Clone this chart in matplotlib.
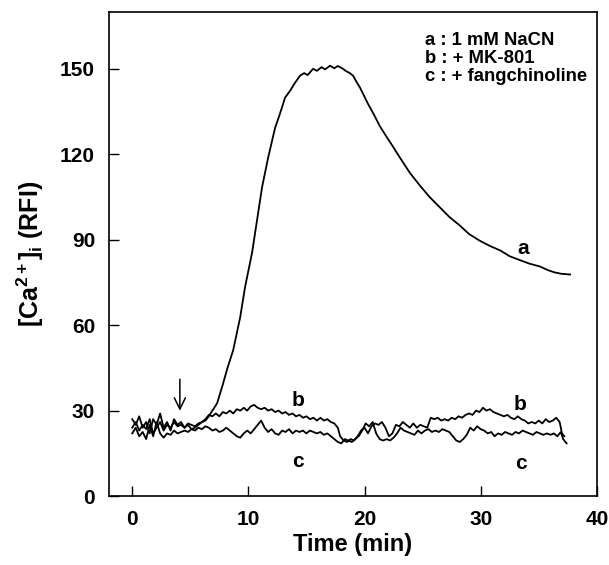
import matplotlib
matplotlib.use("Agg")
import matplotlib.pyplot as plt

plt.rcParams["font.family"] = ["Liberation Sans", "DejaVu Sans"]
plt.rcParams["font.weight"] = "bold"
plt.rcParams["mathtext.fontset"] = "custom"
plt.rcParams["mathtext.rm"] = "Liberation Sans:bold"
plt.rcParams["mathtext.bf"] = "Liberation Sans:bold"
plt.rcParams["mathtext.it"] = "Liberation Sans:bold"
plt.rcParams["mathtext.default"] = "bf"

# trace a: 1 mM NaCN
a_t = [0.0, 0.3, 0.6, 0.9, 1.2, 1.5, 1.8, 2.1, 2.4, 2.7, 3.0, 3.3, 3.6, 3.9, 4.2,
       4.5, 4.8, 5.1, 5.4, 5.7, 6.0, 6.3, 6.54, 6.9, 7.31, 7.83, 8.2, 8.69, 9.29,
       9.72, 10.32, 10.75, 11.18, 11.7, 12.3, 12.7, 13.16, 13.59, 14.0, 14.45,
       14.8, 15.1, 15.57, 15.9, 16.3, 16.6, 17.03, 17.4, 17.7, 18.15, 18.4, 18.7,
       19.01, 19.3, 19.61, 19.9, 20.3, 20.8, 21.3, 21.76, 22.4, 23.05, 23.9,
       24.77, 25.6, 26.5, 27.3, 28.2, 29.0, 29.9, 30.8, 31.7, 32.5, 33.4, 34.2,
       35.1, 35.8, 36.4, 37.0, 37.7]
a_v = [24, 26, 23, 25, 23.5, 27, 22, 24, 26, 23, 25, 24, 26, 24.5, 25,
       24, 25.5, 25, 24.5, 25.5, 26, 26.5, 27.7, 30, 32.6, 39.6, 45, 51.2, 62.7,
       73.5, 85.5, 97.0, 108.5, 118.8, 129.3, 134, 139.9, 142.3, 145, 147.6,
       148.5, 147.8, 150, 149.3, 150.6, 149.8, 151.1, 150.2, 151, 150, 149.2, 148.6,
       147.6, 145.5, 143.4, 141, 137.7, 134, 130, 127, 123, 118.8, 113.5,
       109, 105, 101.3, 98, 95, 92, 89.7, 87.8, 86.2, 84.2, 82.8, 81.6,
       80.6, 79.3, 78.5, 78, 77.8]

# trace b: + MK-801
b_t = [0.0, 0.3, 0.6, 0.9, 1.2, 1.5, 1.8, 2.1, 2.4, 2.7, 3.0, 3.3, 3.6, 3.9, 4.2,
       4.5, 4.8, 5.1, 5.4, 5.7, 6.0, 6.3, 6.6, 6.9, 7.2, 7.5, 7.8, 8.1, 8.4, 8.7,
       9.0, 9.3, 9.6, 9.9, 10.2, 10.5, 10.8, 11.1, 11.4, 11.7, 12.0, 12.3, 12.6,
       12.9, 13.2, 13.5, 13.8, 14.1, 14.4, 14.7, 15.0, 15.3, 15.6, 15.9, 16.2,
       16.5, 16.8, 17.1, 17.4, 17.7, 17.9, 18.2, 18.5, 18.8, 19.1, 19.4, 19.7,
       20.0, 20.3, 20.6, 20.9, 21.2, 21.5, 21.8, 22.1, 22.4, 22.7, 23.0, 23.3,
       23.6, 23.9, 24.2, 24.5, 24.8, 25.1, 25.4, 25.7, 26.0, 26.3, 26.6, 26.9,
       27.2, 27.5, 27.8, 28.1, 28.4, 28.7, 29.0, 29.3, 29.6, 29.9, 30.2, 30.5,
       30.8, 31.1, 31.4, 31.7, 32.0, 32.3, 32.6, 32.9, 33.2, 33.5, 33.8, 34.1,
       34.4, 34.7, 35.0, 35.3, 35.6, 35.9, 36.2, 36.5, 36.8, 37.0, 37.2]
b_v = [27, 25, 28, 24, 26, 22, 27, 25, 29, 24, 26, 23, 27, 25, 26,
       24, 25, 23.5, 24, 25, 26, 27, 28.5, 28, 29, 28, 29.5, 29, 30, 29,
       30.5, 30, 31, 30, 31.5, 32, 31, 30.5, 31, 30, 30.5, 29.5, 30,
       29, 29.5, 28.5, 29, 28, 28.5, 27.5, 28, 27, 27.5, 26.5, 27.5,
       26.5, 27, 26, 25.5, 24, 21, 19.5, 19, 20, 19.5, 21, 23,
       24, 22, 24.5, 25.5, 25, 26, 24, 21, 22, 25, 24.5, 26,
       25, 24, 25.5, 24, 25, 24.5, 24, 27.5, 27, 27.5, 26.5, 27,
       26.5, 27.5, 27, 28, 27.5, 28.5, 29, 28.5, 30, 29.5, 31, 30,
       30.5, 29.5, 29, 28.5, 28, 28.5, 27.5, 27, 28, 27, 26.5, 25.5,
       26, 25.5, 26.5, 25.5, 27, 26, 26.5, 27.5, 26, 22, 21]

# trace c: + fangchinoline
c_t = [0.0, 0.3, 0.6, 0.9, 1.2, 1.5, 1.8, 2.1, 2.4, 2.7, 3.0, 3.3, 3.6, 3.9, 4.2,
       4.5, 4.8, 5.1, 5.4, 5.7, 6.0, 6.3, 6.6, 6.9, 7.2, 7.5, 7.8, 8.1, 8.4, 8.7,
       9.0, 9.3, 9.6, 9.9, 10.2, 10.5, 10.8, 11.1, 11.4, 11.7, 12.0, 12.3, 12.6,
       12.9, 13.2, 13.5, 13.8, 14.1, 14.4, 14.7, 15.0, 15.3, 15.6, 15.9, 16.2,
       16.5, 16.8, 17.1, 17.4, 17.7, 18.0, 18.3, 18.6, 18.9, 19.2, 19.5, 19.8,
       20.1, 20.4, 20.7, 21.0, 21.3, 21.6, 21.9, 22.2, 22.5, 22.8, 23.1, 23.4,
       23.7, 24.0, 24.3, 24.6, 24.9, 25.2, 25.5, 25.8, 26.1, 26.4, 26.7, 27.0,
       27.3, 27.6, 27.9, 28.2, 28.5, 28.8, 29.1, 29.4, 29.7, 30.0, 30.3, 30.6,
       30.9, 31.2, 31.5, 31.8, 32.1, 32.4, 32.7, 33.0, 33.3, 33.6, 33.9, 34.2,
       34.5, 34.8, 35.1, 35.4, 35.7, 36.0, 36.3, 36.6, 36.9, 37.1, 37.4]
c_v = [22, 24, 21, 22.5, 20, 25, 21, 26, 22, 20.5, 22, 21.5, 23, 22, 22.5,
       23, 22.5, 23.5, 23, 24, 23.5, 24.5, 24, 23, 23.5, 22.5, 23, 24, 23, 22,
       21, 20.5, 22, 23, 22, 23.5, 25, 26.5, 24, 22.5, 23.5, 22, 21.5,
       23, 22.5, 23.5, 22, 23, 22.5, 23, 22, 23, 22.5, 22, 22.5,
       21.5, 22, 21, 20, 19, 18.5, 20, 19.5, 19, 20, 21, 23,
       25.5, 24.5, 26, 22, 20, 19.5, 20, 19.5, 20.5, 22, 24, 23,
       22.5, 22, 21.5, 23, 22, 23, 23.5, 22.5, 23, 22.5, 23.5, 23,
       22.5, 21, 19.5, 19, 20, 21.5, 24, 23, 24.5, 23.5, 23, 22,
       22.5, 21, 22, 21.5, 22.5, 22, 21.5, 22.5, 22, 23, 22.5, 22,
       21.5, 22.5, 22, 21.5, 22, 21.5, 22, 21, 22.5, 20, 18.5]

legend_lines = ["a : 1 mM NaCN", "b : + MK-801", "c : + fangchinoline"]
x_ticks = [0, 10, 20, 30, 40]
y_ticks = [0, 30, 60, 90, 120, 150]

fig = plt.figure(figsize=(6.09, 5.65), dpi=100)
ax = fig.add_axes([0.179, 0.122, 0.801, 0.857])

for t, v in [(a_t, a_v), (b_t, b_v), (c_t, c_v)]:
    ax.plot(t, v, color="black", lw=1.3)

ax.set_xlim(-2, 40)
ax.set_ylim(0, 170)
ax.set_xticks(x_ticks)
ax.set_yticks(y_ticks)
ax.tick_params(direction="in", length=7, width=1, labelsize=15, pad=10)
for lab in ax.get_xticklabels() + ax.get_yticklabels():
    lab.set_fontweight("bold")
for sp in ax.spines.values():
    sp.set_linewidth(1.2)

ax.set_xlabel("Time (min)", fontsize=17, fontweight="bold", labelpad=3)
ax.set_ylabel(r"[Ca$^{2+}$]$_{i}$ (RFI)", fontsize=18, fontweight="bold", labelpad=10)

# legend text block
for i, s in enumerate(legend_lines):
    ax.text(25.2, 160 - i * 6.3, s, fontsize=13.3, fontweight="bold", va="center")

# curve labels
for s, x, y in [("a", 33.7, 87), ("b", 14.3, 33.6), ("b", 33.4, 32),
                ("c", 14.3, 12), ("c", 33.5, 11.6)]:
    ax.text(x, y, s, fontsize=15, fontweight="bold", ha="center", va="center")

# addition arrow
ax.annotate("", xy=(4.1, 29), xytext=(4.1, 42),
            arrowprops=dict(arrowstyle="->", color="black", lw=1.1,
                            mutation_scale=20))

fig.savefig("out.png", dpi=100)
